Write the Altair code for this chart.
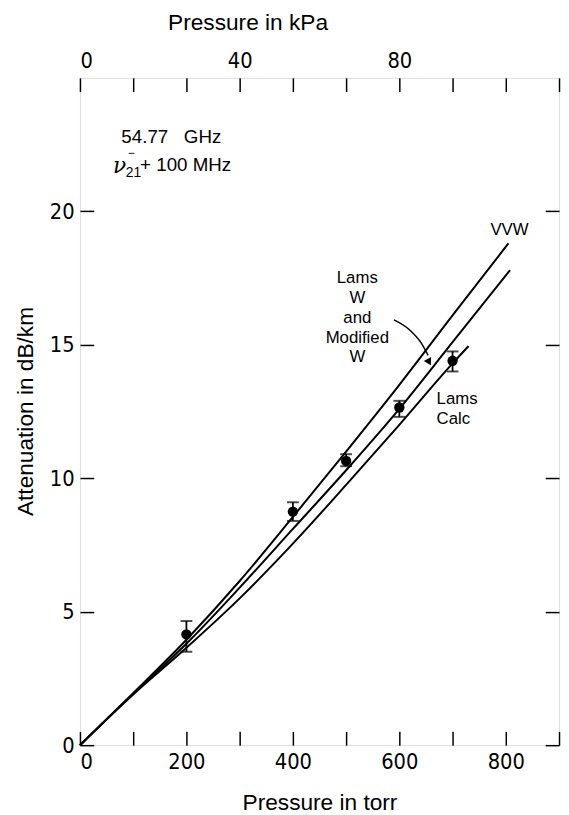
import altair as alt
import pandas as pd

# ---- data ----
torr_vvw = [0, 100, 200, 300, 400, 500, 600, 700, 805]
att_vvw = [0, 1.95, 3.95, 6.15, 8.55, 11.0, 13.5, 16.1, 18.8]
torr_w = [0, 100, 200, 300, 400, 500, 600, 700, 808]
att_w = [0, 1.93, 3.8, 5.9, 8.1, 10.3, 12.6, 15.1, 17.8]
torr_calc = [0, 100, 200, 300, 400, 500, 600, 700, 730]
att_calc = [0, 1.9, 3.65, 5.5, 7.55, 9.75, 12.0, 14.3, 14.95]

meas_torr = [200, 400, 500, 600, 700]
meas_att = [4.15, 8.75, 10.65, 12.65, 14.4]
meas_lo = [3.5, 8.4, 10.45, 12.3, 14.0]
meas_hi = [4.65, 9.1, 10.9, 12.9, 14.75]

x_tick_values = [0, 100, 200, 300, 400, 500, 600, 700, 800, 900]
y_tick_values = [0, 5, 10, 15, 20]
kpa_ticks_torr = [0, 300, 600]
kpa_labels = ["0", "40", "80"]

# ---- tables ----
curves = pd.concat([
    pd.DataFrame({"torr": torr_vvw, "att": att_vvw, "series": "VVW"}),
    pd.DataFrame({"torr": torr_w, "att": att_w, "series": "W"}),
    pd.DataFrame({"torr": torr_calc, "att": att_calc, "series": "Calc"}),
])
meas = pd.DataFrame({"torr": meas_torr, "att": meas_att, "lo": meas_lo, "hi": meas_hi})

FONT = "Liberation Sans"
NUM_FONT = "DejaVu Sans Condensed, Liberation Sans"

xs = alt.Scale(domain=[0, 900], nice=False, zero=True)
ys = alt.Scale(domain=[0, 25], nice=False, zero=True)

bottom_axis = alt.Axis(
    orient="bottom", values=x_tick_values, offset=-14, tickSize=14, tickWidth=1.5,
    tickColor="black", domain=False, grid=False,
    labelExpr="datum.value % 200 == 0 && datum.value < 900 ? datum.label : ''",
    labelFont=NUM_FONT, labelFontSize=22, labelColor="black", labelPadding=7,
    title="Pressure in torr", titleFont=FONT, titleFontSize=23, titleFontWeight="normal",
    titleColor="black", titleX=243, titleY=72, titleBaseline="middle", titleAlign="center",
)
left_axis = alt.Axis(
    orient="left", values=y_tick_values, offset=-14, tickSize=14, tickWidth=1.5,
    tickColor="black", domain=False, grid=False,
    labelFont=NUM_FONT, labelFontSize=22, labelColor="black", labelPadding=6,
    title="Attenuation in dB/km", titleFont=FONT, titleFontSize=23, titleFontWeight="normal",
    titleColor="black", titleX=-69, titleY=338, titleAngle=270, titleBaseline="middle",
    titleAlign="center",
)
label_map = " : ".join(
    f"datum.value == {t} ? '{l}'" for t, l in zip(kpa_ticks_torr, kpa_labels)
) + " : ''"
top_axis = alt.Axis(
    orient="top", values=x_tick_values, offset=-14, tickSize=14, tickWidth=1.5,
    tickColor="black", domain=False, grid=False,
    labelExpr=label_map,
    labelFont=NUM_FONT, labelFontSize=22, labelColor="black", labelPadding=5,
    title="Pressure in kPa", titleFont=FONT, titleFontSize=23, titleFontWeight="normal",
    titleColor="black", titleX=170, titleY=-70, titleBaseline="middle", titleAlign="center",
)
right_axis = alt.Axis(
    orient="right", values=y_tick_values, offset=-14, tickSize=14, tickWidth=1.5,
    tickColor="black", domain=False, grid=False, labels=False, title=None,
)

lines = alt.Chart(curves).mark_line(color="black", strokeWidth=2, interpolate="monotone").encode(
    x=alt.X("torr:Q", scale=xs, axis=bottom_axis),
    y=alt.Y("att:Q", scale=ys, axis=left_axis),
    detail="series:N",
)

points = alt.Chart(meas).mark_point(filled=True, color="black", size=110, opacity=1).encode(
    x=alt.X("torr:Q", scale=xs, axis=top_axis),
    y=alt.Y("att:Q", scale=ys, axis=right_axis),
)

bars = alt.Chart(meas).mark_rule(color="black", strokeWidth=1.8).encode(
    x=alt.X("torr:Q", scale=xs, axis=None),
    y=alt.Y("lo:Q", scale=ys, axis=None),
    y2="hi:Q",
)
caps_lo = alt.Chart(meas).mark_tick(color="black", orient="horizontal", size=12, thickness=2).encode(
    x=alt.X("torr:Q", scale=xs, axis=None),
    y=alt.Y("lo:Q", scale=ys, axis=None),
)
caps_hi = alt.Chart(meas).mark_tick(color="black", orient="horizontal", size=12, thickness=2).encode(
    x=alt.X("torr:Q", scale=xs, axis=None),
    y=alt.Y("hi:Q", scale=ys, axis=None),
)

# ---- annotations ----
ann_left = pd.DataFrame({
    "torr": [77.8, 113],
    "att": [22.78, 21.74],
    "text": ["54.77\u00a0\u00a0\u00a0GHz", "+ 100 MHz"],
})
ann_stack_left = pd.DataFrame({
    "torr": [670],
    "att": [12.96],
    "text": ["Lams\nCalc"],
})
ann_center = pd.DataFrame({
    "torr": [807, 521],
    "att": [19.3, 17.48],
    "text": ["VVW", "Lams\nW\nand\nModified\nW"],
})
t_left = alt.Chart(ann_left).mark_text(
    align="left", baseline="middle", font=FONT, fontSize=19, color="black",
).encode(x=alt.X("torr:Q", scale=xs, axis=None), y=alt.Y("att:Q", scale=ys, axis=None), text="text:N")
t_stack_left = alt.Chart(ann_stack_left).mark_text(
    align="left", baseline="middle", font=FONT, fontSize=17, color="black",
    lineBreak="\n", lineHeight=20,
).encode(x=alt.X("torr:Q", scale=xs, axis=None), y=alt.Y("att:Q", scale=ys, axis=None), text="text:N")
t_center = alt.Chart(ann_center).mark_text(
    align="center", baseline="middle", font=FONT, fontSize=17, color="black",
    lineBreak="\n", lineHeight=20,
).encode(x=alt.X("torr:Q", scale=xs, axis=None), y=alt.Y("att:Q", scale=ys, axis=None), text="text:N")

nu = alt.Chart(pd.DataFrame({"torr": [62], "att": [21.7], "text": ["ν"]})).mark_text(
    align="left", baseline="middle", font="DejaVu Serif", fontStyle="italic", fontSize=22, color="black"
).encode(x=alt.X("torr:Q", scale=xs, axis=None), y=alt.Y("att:Q", scale=ys, axis=None), text="text:N")
sub = alt.Chart(pd.DataFrame({"torr": [86], "att": [21.42], "text": ["21"]})).mark_text(
    align="left", baseline="middle", font=FONT, fontSize=14, color="black"
).encode(x=alt.X("torr:Q", scale=xs, axis=None), y=alt.Y("att:Q", scale=ys, axis=None), text="text:N")
bar_over = alt.Chart(pd.DataFrame({"torr": [97], "att": [22.2], "text": ["−"]})).mark_text(
    align="center", baseline="middle", font=FONT, fontSize=12, color="black"
).encode(x=alt.X("torr:Q", scale=xs, axis=None), y=alt.Y("att:Q", scale=ys, axis=None), text="text:N")

arrow_pts = pd.DataFrame({
    "torr": [590, 619, 641, 654],
    "att": [15.93, 15.56, 15.07, 14.6],
    "i": [0, 1, 2, 3],
})
arrow = alt.Chart(arrow_pts).mark_line(color="black", strokeWidth=1.5, interpolate="monotone").encode(
    x=alt.X("torr:Q", scale=xs, axis=None), y=alt.Y("att:Q", scale=ys, axis=None), order="i:O",
)
head = alt.Chart(pd.DataFrame({"torr": [656], "att": [14.35]})).mark_point(
    shape="triangle-down", filled=True, color="black", size=70, angle=332, opacity=1
).encode(x=alt.X("torr:Q", scale=xs, axis=None), y=alt.Y("att:Q", scale=ys, axis=None))

chart = alt.layer(
    lines, points, bars, caps_lo, caps_hi, t_left, t_stack_left, t_center, nu, sub, bar_over,
    arrow, head
).resolve_axis(x="independent", y="independent").properties(
    width=486, height=677,
    autosize=alt.AutoSizeParams(type="none"),
    padding={"left": 73, "top": 65, "right": 2, "bottom": 65},
).configure_view(stroke="black", strokeWidth=2).configure(background="white")

chart.save("out.html", embed_options={"renderer": "svg", "actions": False})
